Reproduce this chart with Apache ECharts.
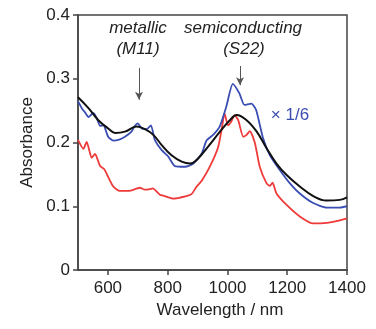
<!DOCTYPE html>
<html>
<head>
<meta charset="utf-8">
<script src="https://cdn.jsdelivr.net/npm/echarts@6/dist/echarts.min.js"></script>
<style>
  html, body { margin: 0; padding: 0; background: #fff; }
  #chart { width: 376px; height: 329px; }
</style>
</head>
<body>
<div id="chart"></div>
<script>
// wavelength (nm) / absorbance
const blackX = [500, 535, 568, 601, 624, 657, 696, 724, 752, 780, 813, 847, 875, 902, 936, 975, 1008, 1031, 1064, 1098, 1131, 1164, 1198, 1242, 1287, 1332, 1376, 1400];
const blackY = [0.271, 0.254, 0.235, 0.222, 0.215, 0.217, 0.225, 0.221, 0.212, 0.196, 0.180, 0.170, 0.167, 0.175, 0.194, 0.217, 0.235, 0.243, 0.235, 0.217, 0.191, 0.167, 0.149, 0.131, 0.116, 0.109, 0.110, 0.114];

const blueX = [500, 515, 524, 535, 545, 552, 563, 574, 585, 601, 618, 640, 657, 679, 690, 700, 713, 730, 744, 757, 780, 802, 824, 858, 886, 914, 930, 952, 974, 996, 1018, 1040, 1057, 1080, 1096, 1119, 1142, 1175, 1209, 1242, 1287, 1332, 1376, 1400];
const blueY = [0.265, 0.252, 0.247, 0.240, 0.244, 0.246, 0.238, 0.226, 0.227, 0.209, 0.203, 0.205, 0.209, 0.217, 0.226, 0.230, 0.222, 0.221, 0.227, 0.204, 0.188, 0.178, 0.163, 0.162, 0.167, 0.183, 0.203, 0.212, 0.225, 0.256, 0.292, 0.277, 0.259, 0.261, 0.251, 0.207, 0.180, 0.157, 0.136, 0.120, 0.105, 0.098, 0.098, 0.100];

const redX = [500, 518, 529, 546, 557, 574, 588, 601, 618, 640, 670, 707, 724, 741, 750, 774, 790, 818, 863, 880, 897, 914, 941, 969, 983, 990, 1002, 1013, 1024, 1036, 1053, 1064, 1075, 1092, 1108, 1131, 1142, 1151, 1164, 1198, 1242, 1287, 1332, 1376, 1400];
const redY = [0.204, 0.190, 0.201, 0.176, 0.182, 0.163, 0.158, 0.146, 0.131, 0.124, 0.124, 0.129, 0.126, 0.127, 0.128, 0.118, 0.116, 0.112, 0.116, 0.119, 0.131, 0.140, 0.162, 0.193, 0.227, 0.246, 0.227, 0.233, 0.243, 0.235, 0.209, 0.212, 0.218, 0.199, 0.162, 0.136, 0.132, 0.137, 0.120, 0.102, 0.084, 0.073, 0.074, 0.078, 0.081];

const xTicks = [600, 800, 1000, 1200, 1400];
const yTicks = [0, 0.1, 0.2, 0.3, 0.4];

// arrows: [wavelength, from, to]
const metallicArrow = [704, 0.317, 0.267];
const semiArrow = [1042, 0.320, 0.290];

const zip = (xs, ys) => xs.map((x, i) => [x, ys[i]]);
const FONT = 'Liberation Sans, Arial, sans-serif';

const chart = echarts.init(document.getElementById('chart'));

const arrowLine = (a) => [{ coord: [a[0], a[1]] }, { coord: [a[0], a[2]] }];

const option = {
  animation: false,
  grid: {
    left: 78, right: 29, top: 15, bottom: 59,
    show: true, borderColor: '#444', borderWidth: 1.5,
  },
  xAxis: {
    type: 'value',
    min: 500,
    max: 1400,
    name: 'Wavelength / nm',
    nameLocation: 'middle',
    nameGap: 28,
    nameTextStyle: { fontSize: 17, color: '#222', fontFamily: FONT, padding: [0, 0, 0, 15] },
    axisLine: { lineStyle: { color: '#444', width: 1.5 } },
    axisTick: { show: true, length: 5, customValues: xTicks, lineStyle: { color: '#444', width: 1.5 } },
    axisLabel: {
      customValues: xTicks, fontSize: 17, color: '#222', fontFamily: FONT, margin: 10,
      formatter: (v) => String(v),
    },
    splitLine: { show: false },
  },
  yAxis: {
    type: 'value',
    min: 0,
    max: 0.4,
    interval: 0.1,
    name: 'Absorbance',
    nameLocation: 'middle',
    nameGap: 37,
    nameTextStyle: { fontSize: 17, color: '#222', fontFamily: FONT },
    axisLine: { show: true, lineStyle: { color: '#444', width: 1.5 } },
    axisTick: { show: true, length: 5, customValues: yTicks, lineStyle: { color: '#444', width: 1.5 } },
    axisLabel: {
      customValues: yTicks,
      fontSize: 17, color: '#222', fontFamily: FONT, margin: 8,
      formatter: (v) => (v === 0 ? '0' : v.toFixed(1)),
    },
    splitLine: { show: false },
  },
  series: [
    {
      name: 'red',
      type: 'line',
      data: zip(redX, redY),
      showSymbol: false,
      smooth: 0.2,
      lineStyle: { color: '#ef3a3a', width: 1.8 },
    },
    {
      name: 'blue',
      type: 'line',
      data: zip(blueX, blueY),
      showSymbol: false,
      smooth: 0.2,
      lineStyle: { color: '#3a4db3', width: 1.8 },
    },
    {
      name: 'black',
      type: 'line',
      data: zip(blackX, blackY),
      showSymbol: false,
      smooth: 0.4,
      lineStyle: { color: '#111', width: 2 },
      markLine: {
        silent: true,
        symbol: ['none', 'arrow'],
        symbolSize: [6, 8],
        label: { show: false },
        lineStyle: { color: '#555', width: 1, type: 'solid' },
        data: [arrowLine(metallicArrow), arrowLine(semiArrow)],
      },
    },
  ],
};

chart.setOption(option);

// annotation text placed relative to the arrows
const p1 = chart.convertToPixel({ gridIndex: 0 }, [metallicArrow[0], metallicArrow[1]]);
const p2 = chart.convertToPixel({ gridIndex: 0 }, [semiArrow[0], semiArrow[1]]);
const txt = (x, y, text) => ({
  type: 'text', x, y,
  style: {
    text, fill: '#222', fontSize: 17, fontStyle: 'italic', fontFamily: FONT,
    textAlign: 'center', textVerticalAlign: 'middle',
  },
});
chart.setOption({
  graphic: [
    txt(p1[0] - 1, 28, 'metallic'),
    txt(p1[0] - 1, 49, '(M11)'),
    txt(p2[0] + 3, 28, 'semiconducting'),
    txt(p2[0] + 4, 49, '(S22)'),
    {
      type: 'text', x: 290, y: 115,
      style: {
        text: '× 1/6', fill: '#3a4db3', fontSize: 17, fontFamily: FONT,
        textAlign: 'center', textVerticalAlign: 'middle',
      },
    },
  ],
});

window.addEventListener('resize', () => chart.resize());
</script>
</body>
</html>
